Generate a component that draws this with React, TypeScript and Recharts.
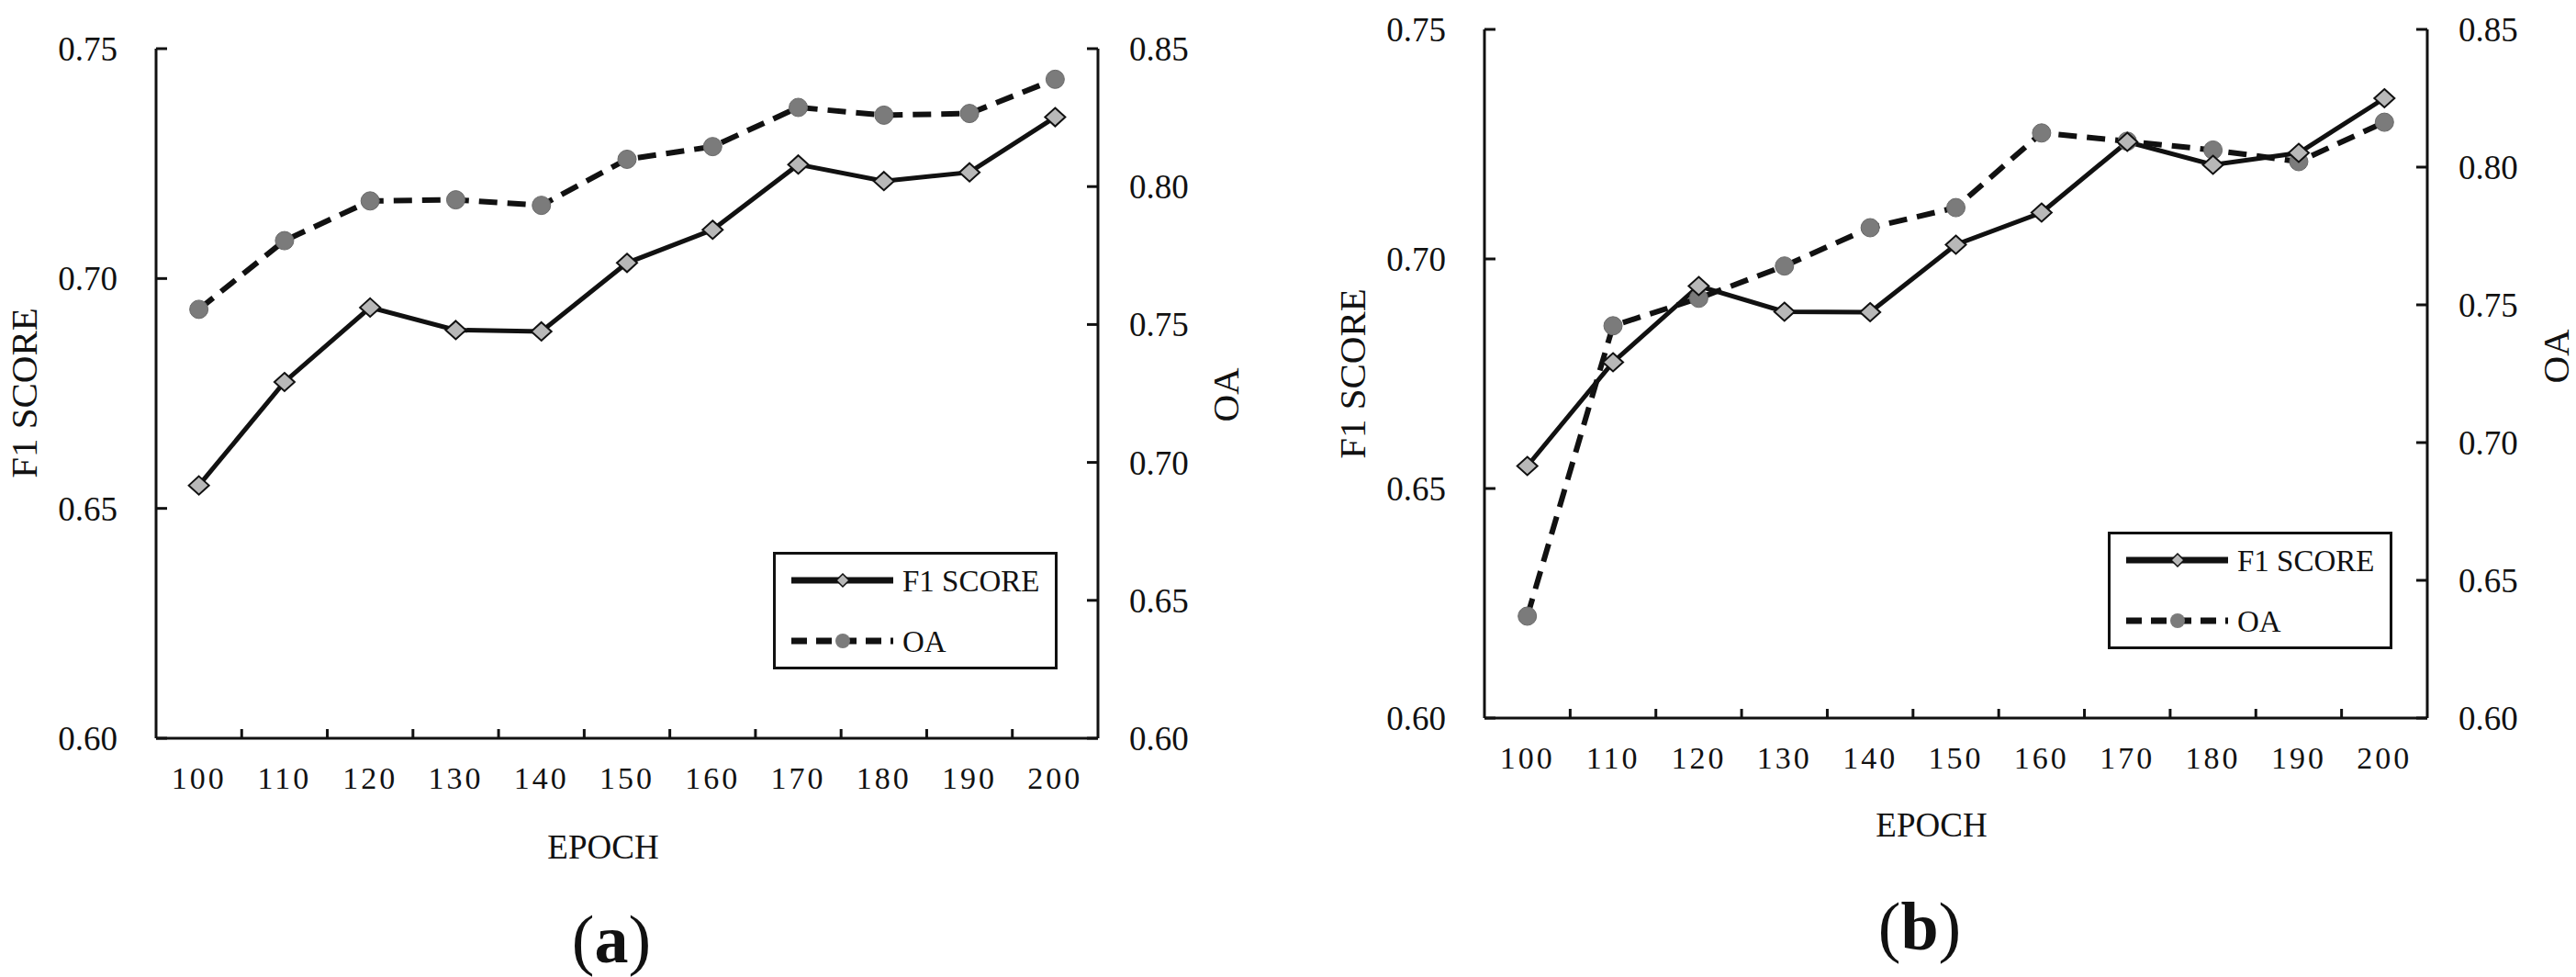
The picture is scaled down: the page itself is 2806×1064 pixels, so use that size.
import { LineChart, Line, XAxis, YAxis, Legend } from 'recharts';

// epochs on the x axis
const EPOCHS = [100, 110, 120, 130, 140, 150, 160, 170, 180, 190, 200];

// panel (a)
const F1_A = [0.655, 0.6775, 0.6937, 0.6888, 0.6885, 0.7034, 0.7106, 0.7248, 0.7212, 0.7231, 0.7351];
const OA_A = [0.7555, 0.7804, 0.7948, 0.7952, 0.7932, 0.8099, 0.8145, 0.8287, 0.8259, 0.8265, 0.8389];

// panel (b)
const F1_B = [0.6549, 0.6775, 0.6941, 0.6885, 0.6884, 0.7031, 0.7101, 0.7255, 0.7205, 0.7231, 0.735];
const OA_B = [0.637, 0.7424, 0.7524, 0.7641, 0.778, 0.7853, 0.8124, 0.8094, 0.8062, 0.802, 0.8163];

const F1_TICKS = [0.6, 0.65, 0.7, 0.75];
const OA_TICKS = [0.6, 0.65, 0.7, 0.75, 0.8, 0.85];

const FONT = '"Liberation Serif", "Times New Roman", serif';
const INK = '#111';

// tick lines sit between the epochs, labels sit on them
const MID_TICKS = EPOCHS.slice(1).map((e, i) => (e + EPOCHS[i]) / 2);
const X_TICKS = [...EPOCHS, ...MID_TICKS].sort((a, b) => a - b);

const XTick = (props: any) => {
  const { x, y, payload } = props;
  if (EPOCHS.includes(payload.value)) {
    return (
      <text x={x} y={y + 43} dy="0.35em" textAnchor="middle" fontFamily={FONT} fontSize={34} letterSpacing={3} fill={INK}>
        {payload.value}
      </text>
    );
  }
  return <line x1={x} x2={x} y1={y} y2={y - 10} stroke={INK} strokeWidth={3} />;
};

const YTick = (props: any) => {
  const { x, y, payload, side } = props;
  const left = side === 'left';
  return (
    <g>
      <line x1={x} x2={left ? x + 12 : x - 12} y1={y} y2={y} stroke={INK} strokeWidth={3} />
      <text
        x={left ? x - 42 : x + 34}
        y={y}
        dy="0.35em"
        textAnchor={left ? 'end' : 'start'}
        fontFamily={FONT}
        fontSize={37}
        fill={INK}
      >
        {Number(payload.value).toFixed(2)}
      </text>
    </g>
  );
};

const VTitle = ({ tx, cy, text }: any) => (
  <text
    x={tx}
    y={cy}
    dy="0.35em"
    transform={`rotate(-90, ${tx}, ${cy})`}
    textAnchor="middle"
    fontFamily={FONT}
    fontSize={41}
    fill={INK}
  >
    {text}
  </text>
);

const HTitle = ({ tx, ty, text }: any) => (
  <text x={tx} y={ty} dy="0.35em" textAnchor="middle" fontFamily={FONT} fontSize={37} fill={INK}>
    {text}
  </text>
);

const renderDiamond = (p: any) => {
  const { cx, cy, index } = p;
  const w = 11;
  const h = 10;
  return (
    <polygon
      key={`dm-${index}`}
      points={`${cx},${cy - h} ${cx + w},${cy} ${cx},${cy + h} ${cx - w},${cy}`}
      fill="#b8b8b8"
      stroke={INK}
      strokeWidth={2}
    />
  );
};

const renderCircle = (p: any) => {
  const { cx, cy, index } = p;
  return <circle key={`ci-${index}`} cx={cx} cy={cy} r={10} fill="#7b7b7b" stroke="#6a6a6a" strokeWidth={1} />;
};

const LegendBox = () => (
  <svg width={310} height={128} style={{ display: 'block' }}>
    <rect x={1.5} y={1.5} width={307} height={125} fill="#fff" stroke={INK} strokeWidth={3} />
    <line x1={20} x2={131} y1={31} y2={31} stroke={INK} strokeWidth={7} />
    <polygon points="76,24 83,31 76,38 69,31" fill="#b8b8b8" stroke={INK} strokeWidth={1.5} />
    <text x={141} y={31} dy="0.35em" fontFamily={FONT} fontSize={33} fill={INK}>F1 SCORE</text>
    <line x1={20} x2={131} y1={97} y2={97} stroke={INK} strokeWidth={7} strokeDasharray="17 10" />
    <circle cx={76} cy={97} r={8} fill="#7b7b7b" />
    <text x={141} y={97} dy="0.35em" fontFamily={FONT} fontSize={33} fill={INK}>OA</text>
  </svg>
);

interface PanelProps {
  f1: number[];
  oa: number[];
  left: number;
  width: number;
  top: number;
  leftAxisWidth: number;
  rightAxisWidth: number;
  bottom: number;
  f1Title: [number, number];
  oaTitle: [number, number];
  epochTitle: [number, number];
  legendPos: [number, number];
  caption: string;
  captionPos: [number, number];
}

function Panel(props: PanelProps) {
  const data = EPOCHS.map((epoch, i) => ({ epoch, f1: props.f1[i], oa: props.oa[i] }));
  return (
    <div style={{ position: 'absolute', left: props.left, top: 0, width: props.width, height: 1064 }}>
      <LineChart
        width={props.width}
        height={1064}
        data={data}
        margin={{ top: props.top, right: 0, bottom: props.bottom, left: 0 }}
      >
        <XAxis
          xAxisId="frame"
          orientation="top"
          type="number"
          dataKey="epoch"
          domain={[95, 205]}
          height={0}
          tick={false}
          tickLine={false}
          axisLine={{ stroke: INK, strokeWidth: 3 }}
        />
        <XAxis
          xAxisId="main"
          type="number"
          dataKey="epoch"
          domain={[95, 205]}
          ticks={X_TICKS}
          interval={0}
          height={60}
          tickSize={0}
          tickMargin={0}
          tickLine={false}
          tick={<XTick />}
          axisLine={{ stroke: INK, strokeWidth: 3 }}
          label={<HTitle tx={props.epochTitle[0]} ty={props.epochTitle[1]} text="EPOCH" />}
        />
        <YAxis
          yAxisId="f1"
          orientation="left"
          width={props.leftAxisWidth}
          domain={[0.6, 0.75]}
          ticks={F1_TICKS}
          interval={0}
          tickSize={0}
          tickMargin={0}
          tickLine={false}
          tick={<YTick side="left" />}
          axisLine={{ stroke: INK, strokeWidth: 3 }}
          label={<VTitle tx={props.f1Title[0]} cy={props.f1Title[1]} text="F1 SCORE" />}
        />
        <YAxis
          yAxisId="oa"
          orientation="right"
          width={props.rightAxisWidth}
          domain={[0.6, 0.85]}
          ticks={OA_TICKS}
          interval={0}
          tickSize={0}
          tickMargin={0}
          tickLine={false}
          tick={<YTick side="right" />}
          axisLine={{ stroke: INK, strokeWidth: 3 }}
          label={<VTitle tx={props.oaTitle[0]} cy={props.oaTitle[1]} text="OA" />}
        />
        <Line
          xAxisId="main"
          yAxisId="oa"
          dataKey="oa"
          name="OA"
          stroke={INK}
          strokeWidth={6}
          strokeDasharray="20 11"
          dot={renderCircle}
          activeDot={false}
          isAnimationActive={false}
        />
        <Line
          xAxisId="main"
          yAxisId="f1"
          dataKey="f1"
          name="F1 SCORE"
          stroke={INK}
          strokeWidth={5}
          dot={renderDiamond}
          activeDot={false}
          isAnimationActive={false}
        />
        <Legend
          layout="vertical"
          align="center"
          verticalAlign="middle"
          wrapperStyle={{ left: props.legendPos[0], top: props.legendPos[1], width: 310, height: 128 }}
          content={() => <LegendBox />}
        />
      </LineChart>
      <div
        style={{
          position: 'absolute',
          left: props.captionPos[0] - 100,
          top: props.captionPos[1] - 45,
          width: 200,
          height: 90,
          lineHeight: '90px',
          textAlign: 'center',
          fontFamily: FONT,
          fontSize: 74,
          color: INK,
        }}
      >
        (<b>{props.caption}</b>)
      </div>
    </div>
  );
}

export default function App() {
  return (
    <div style={{ position: 'absolute', left: 0, top: 0, width: 2806, height: 1064, background: '#fff', overflow: 'hidden' }}>
      <Panel
        f1={F1_A}
        oa={OA_A}
        left={0}
        width={1400}
        top={53}
        leftAxisWidth={170}
        rightAxisWidth={204}
        bottom={200}
        f1Title={[26, 428]}
        oaTitle={[1335, 430]}
        epochTitle={[657, 922]}
        legendPos={[842, 601]}
        caption="a"
        captionPos={[666, 1023]}
      />
      <Panel
        f1={F1_B}
        oa={OA_B}
        left={1400}
        width={1406}
        top={32}
        leftAxisWidth={217}
        rightAxisWidth={162}
        bottom={222}
        f1Title={[73, 407]}
        oaTitle={[1384, 388]}
        epochTitle={[704, 898]}
        legendPos={[896, 579]}
        caption="b"
        captionPos={[691, 1009]}
      />
    </div>
  );
}
